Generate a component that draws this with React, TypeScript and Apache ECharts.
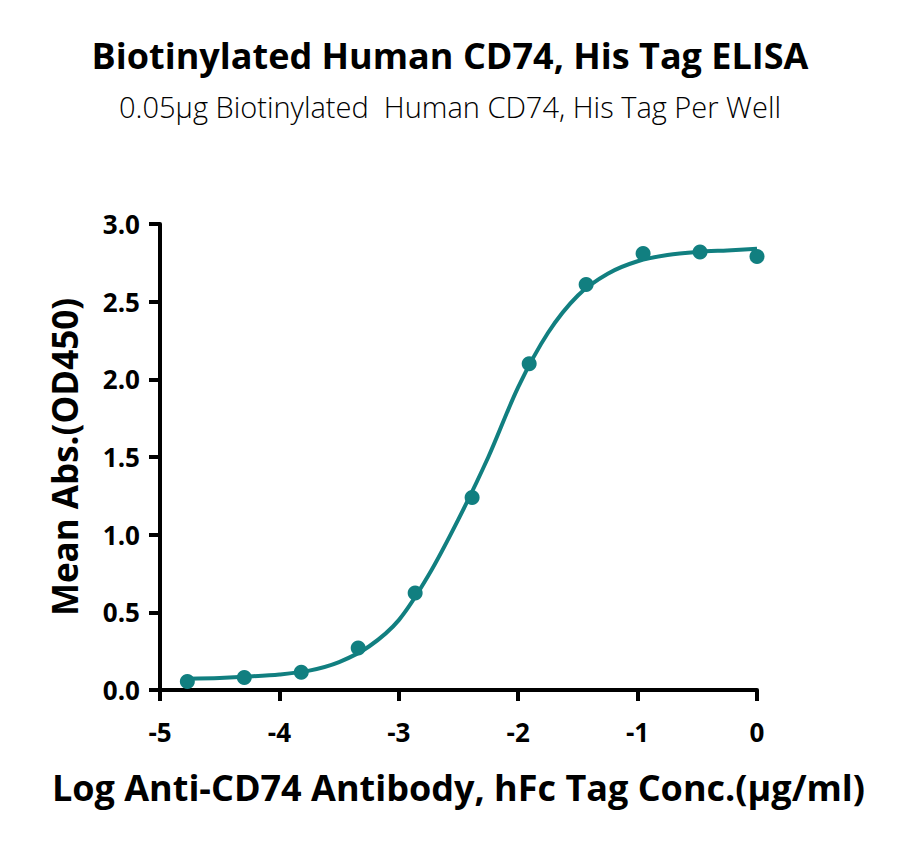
import React, { useEffect, useRef } from 'react';
import * as echarts from 'echarts';

// measured points (log conc, mean OD450)
const logConc = [-4.771, -4.294, -3.817, -3.34, -2.863, -2.386, -1.908, -1.431, -0.954, -0.477, 0];
const meanAbs = [0.055, 0.08, 0.115, 0.27, 0.625, 1.24, 2.1, 2.61, 2.81, 2.82, 2.79];

// fitted curve
const fitX = [-4.77, -4.5, -4.25, -4.0, -3.75, -3.5, -3.25, -3.0, -2.75, -2.5, -2.25, -2.0, -1.75, -1.5, -1.25, -1.0, -0.75, -0.5, -0.25, 0];
const fitY = [0.073, 0.078, 0.087, 0.1, 0.125, 0.18, 0.28, 0.45, 0.74, 1.1, 1.5, 1.95, 2.3, 2.54, 2.68, 2.76, 2.8, 2.82, 2.83, 2.84];

const TEAL = '#117f80';
const FONT = 'Open Sans';

const App: React.FC = () => {
  const chartRef = useRef<HTMLDivElement>(null);

  useEffect(() => {
    if (!chartRef.current) return;
    const chart = echarts.init(chartRef.current, undefined, { renderer: 'svg' });

    const option = {
      animation: false,
      backgroundColor: '#fff',
      title: {
        left: 'center',
        top: 24,
        text: 'Biotinylated Human CD74, His Tag ELISA',
        subtext: '0.05μg Biotinylated  Human CD74, His Tag Per Well',
        itemGap: 19,
        textStyle: { fontFamily: FONT, fontWeight: 'bold', fontSize: 36, color: '#000' },
        subtextStyle: { fontFamily: FONT, fontWeight: 300, fontSize: 29, color: '#000' },
      },
      grid: { left: 152, right: 135, top: 216, bottom: 148 },
      xAxis: {
        type: 'value',
        min: -5,
        max: 0,
        interval: 1,
        name: 'Log Anti-CD74 Antibody, hFc Tag Conc.(μg/ml)',
        nameLocation: 'middle',
        nameGap: 79,
        nameTextStyle: { fontFamily: FONT, fontWeight: 'bold', fontSize: 36, color: '#000' },
        axisLine: { show: true, onZero: false, lineStyle: { color: '#000', width: 4 } },
        axisTick: { show: true, length: 11, lineStyle: { color: '#000', width: 4 } },
        axisLabel: { fontFamily: FONT, fontWeight: 'bold', fontSize: 26, color: '#000', margin: 29 },
        splitLine: { show: false },
      },
      yAxis: {
        type: 'value',
        min: 0,
        max: 3,
        interval: 0.5,
        name: 'Mean Abs.(OD450)',
        nameLocation: 'middle',
        nameGap: 78,
        nameRotate: 90,
        nameTextStyle: { fontFamily: FONT, fontWeight: 'bold', fontSize: 35, color: '#000' },
        axisLine: { show: true, onZero: false, lineStyle: { color: '#000', width: 4 } },
        axisTick: { show: true, length: 11, lineStyle: { color: '#000', width: 4 } },
        axisLabel: {
          fontFamily: FONT,
          fontWeight: 'bold',
          fontSize: 26,
          color: '#000',
          margin: 20,
          formatter: (v: number) => v.toFixed(1),
        },
        splitLine: { show: false },
      },
      series: [
        {
          type: 'line',
          data: fitX.map((x, i) => [x, fitY[i]]),
          smooth: 0.3,
          symbol: 'none',
          lineStyle: { color: TEAL, width: 4 },
          z: 2,
        },
        {
          type: 'scatter',
          data: logConc.map((x, i) => [x, meanAbs[i]]),
          symbol: 'circle',
          symbolSize: 15,
          itemStyle: { color: TEAL, opacity: 1 },
          z: 3,
        },
      ],
    };

    chart.setOption(option);
    return () => {
      chart.dispose();
    };
  }, []);

  return <div ref={chartRef} style={{ width: 884, height: 830 }} />;
};

export default App;
